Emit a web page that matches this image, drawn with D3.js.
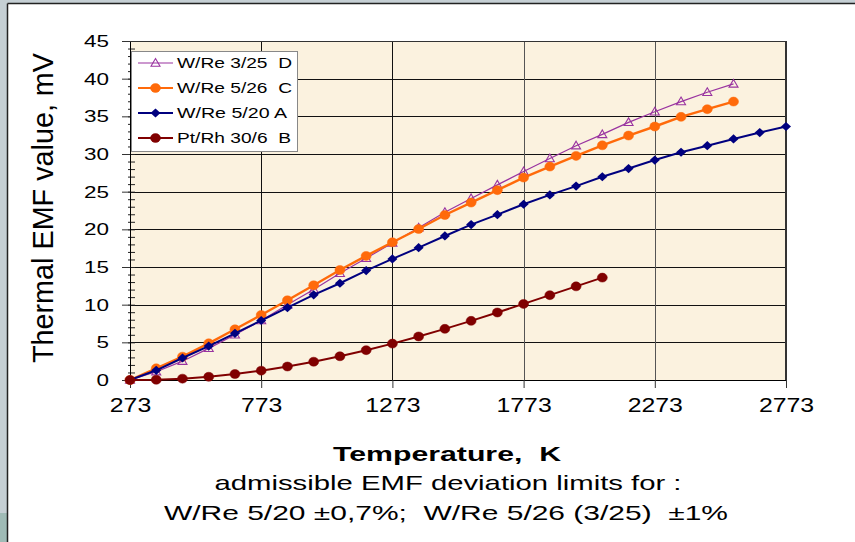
<!DOCTYPE html>
<html><head><meta charset="utf-8">
<script src="https://cdn.jsdelivr.net/npm/d3@7/dist/d3.min.js"></script>
<style>
html,body{margin:0;padding:0;background:#fff;}
svg{display:block;}
text{font-family:"Liberation Sans",Arial,sans-serif;white-space:pre;}
</style></head>
<body>
<svg id="chart" width="855" height="542"></svg>
<script>
// ---- data ----
const temps = [273,373,473,573,673,773,873,973,1073,1173,1273,1373,1473,1573,1673,1773,1873,1973,2073,2173,2273,2373,2473,2573,2673,2773];
const emfD = [0,1.1,2.5,4.2,6.0,7.9,10.0,12.0,14.17,16.16,18.2,20.2,22.27,24.1,25.9,27.67,29.4,31.1,32.6,34.2,35.6,36.96,38.2,39.3];
const emfC = [0,1.55,3.1,4.87,6.73,8.63,10.58,12.57,14.6,16.47,18.28,20.05,21.9,23.55,25.2,26.87,28.33,29.75,31.15,32.45,33.65,34.93,35.95,36.96];
const emfA = [0,1.29,2.92,4.5,6.2,7.9,9.6,11.3,12.84,14.52,16.07,17.57,19.12,20.63,21.95,23.33,24.57,25.74,26.98,28.07,29.2,30.23,31.1,32.0,32.85,33.65];
const emfB = [0,0.03,0.18,0.43,0.79,1.24,1.79,2.43,3.15,3.96,4.83,5.78,6.79,7.85,8.96,10.1,11.26,12.43,13.59];
const seriesNames = ["W/Re 3/25  D","W/Re 5/26  C","W/Re 5/20 A","Pt/Rh 30/6  B"];
const xTicks = [273,773,1273,1773,2273,2773];
const yTicks = [0,5,10,15,20,25,30,35,40,45];
const yMinor = d3.range(0,46,1);
const xTitle = "Temperature,  K";
const yTitle = "Thermal EMF value, mV";
const note1 = "admissible EMF deviation limits for :";
const note2 = "W/Re 5/20 ±0,7%;  W/Re 5/26 (3/25)  ±1%";

// ---- layout ----
const svg = d3.select("#chart");
const L = 130, R = 786, T = 41, B = 380;
const x = d3.scaleLinear().domain([273,2773]).range([L,R]);
const y = d3.scaleLinear().domain([0,45]).range([B,T]);

// outer frame
svg.append("rect").attr("x",0).attr("y",0).attr("width",855).attr("height",542).attr("fill","#fff");
svg.append("rect").attr("x",0).attr("y",0).attr("width",855).attr("height",3).attr("fill","#c5cfd4");
svg.append("rect").attr("x",0).attr("y",0).attr("width",7).attr("height",513).attr("fill","#c5cfd4");
svg.append("rect").attr("x",0).attr("y",513).attr("width",7).attr("height",29).attr("fill","#9fbbb6");
svg.append("line").attr("x1",7.5).attr("x2",855).attr("y1",3.5).attr("y2",3.5).attr("stroke","#222").attr("stroke-width",1.5);
svg.append("line").attr("x1",7.5).attr("x2",7.5).attr("y1",3.5).attr("y2",542).attr("stroke","#222").attr("stroke-width",1.5);

// plot background
svg.append("rect").attr("x",L).attr("y",T).attr("width",R-L).attr("height",B-T).attr("fill","#fbf2df");

// grid
const g = svg.append("g");
g.selectAll(".hg").data(yTicks.filter(v=>v>0)).join("line")
  .attr("x1",L).attr("x2",R).attr("y1",d=>Math.round(y(d))+0.5).attr("y2",d=>Math.round(y(d))+0.5)
  .attr("stroke","#111").attr("stroke-width",1);
g.selectAll(".vg").data(xTicks.slice(1,-1)).join("line")
  .attr("y1",T).attr("y2",B).attr("x1",d=>Math.round(x(d))+0.5).attr("x2",d=>Math.round(x(d))+0.5)
  .attr("stroke",(d,i)=> i<2 ? "#111" : "#555").attr("stroke-width",1);
// right border
svg.append("line").attr("x1",R).attr("x2",R).attr("y1",T).attr("y2",B).attr("stroke","#333").attr("stroke-width",2);

// axes
const xAxis = d3.axisBottom(x).tickValues(xTicks).tickSize(8).tickPadding(10).tickFormat(d3.format("d"));
const xg = svg.append("g").attr("transform",`translate(0,${B})`).call(xAxis);
xg.select(".domain").attr("stroke","#000");
xg.selectAll(".tick line").attr("stroke","#333");
xg.selectAll("text").attr("font-size",20).attr("fill","#000").attr("dy","0.71em")
  .attr("textLength",function(){return this.textContent.length*13.8;}).attr("lengthAdjust","spacingAndGlyphs");

const yMinorAxis = d3.axisLeft(y).tickValues(yMinor).tickSize(-4).tickFormat("");
const ym = svg.append("g").attr("transform",`translate(${L+1},0)`).call(yMinorAxis);
ym.select(".domain").remove();
ym.selectAll(".tick line").attr("stroke","#222").attr("x1",-3);

const yAxis = d3.axisLeft(y).tickValues(yTicks).tickSize(8).tickPadding(13);
const yg = svg.append("g").attr("transform",`translate(${L},0)`).call(yAxis);
yg.select(".domain").attr("stroke","#000");
yg.selectAll(".tick line").attr("stroke","#333");
yg.selectAll("text").attr("font-size",17).attr("fill","#000")
  .attr("textLength",function(){return this.textContent.length*12.5;}).attr("lengthAdjust","spacingAndGlyphs");

// top border
svg.append("line").attr("x1",L).attr("x2",R).attr("y1",T+0.5).attr("y2",T+0.5).attr("stroke","#333").attr("stroke-width",1);

// series
function pts(vals){ return vals.map((v,i)=>[temps[i],v]); }
const series = [
  {name:seriesNames[0], data:pts(emfD), color:"#9933a0", width:1.2, marker:"tri"},
  {name:seriesNames[1], data:pts(emfC), color:"#ff6a0a", width:2.4, marker:"circ"},
  {name:seriesNames[2], data:pts(emfA), color:"#00007f", width:2, marker:"dia"},
  {name:seriesNames[3], data:pts(emfB), color:"#800000", width:2, marker:"circ"}
];
const line = d3.line().x(d=>x(d[0])).y(d=>y(d[1]));

function drawMarker(sel, type, color){
  if(type==="circ"){
    sel.append("ellipse").attr("rx",5).attr("ry",4.5).attr("fill",color).attr("stroke",color).attr("stroke-width",0.5);
  } else if(type==="dia"){
    sel.append("path").attr("d","M0,-4.6L5,0L0,4.6L-5,0Z").attr("fill",color);
  } else {
    sel.append("path").attr("d","M0,-4.5L4.5,3.2L-4.5,3.2Z").attr("fill","none").attr("stroke",color).attr("stroke-width",1.1);
  }
}

series.forEach(s=>{
  const sg = svg.append("g");
  sg.append("path").attr("d",line(s.data)).attr("fill","none").attr("stroke",s.color).attr("stroke-width",s.width);
  sg.selectAll("g.m").data(s.data).join("g").attr("class","m")
    .attr("transform",d=>`translate(${x(d[0])},${y(d[1])})`)
    .each(function(){ drawMarker(d3.select(this), s.marker, s.color); });
});

// legend
const lg = svg.append("g").attr("transform","translate(131,51)");
lg.append("rect").attr("x",0.5).attr("y",0.5).attr("width",166).attr("height",100).attr("fill","#fff").attr("stroke","#888");
const ent = lg.selectAll("g.e").data(series).join("g").attr("class","e")
  .attr("transform",(d,i)=>`translate(0,${12+i*25})`);
ent.append("line").attr("x1",7).attr("x2",42).attr("y1",0).attr("y2",0)
  .attr("stroke",d=>d.color).attr("stroke-width",d=>Math.min(d.width,2));
ent.each(function(d){ const m=d3.select(this).append("g").attr("transform","translate(24.5,0)"); drawMarker(m,d.marker,d.color); });
const legW = [115,115,110,114];
ent.append("text").attr("x",46).attr("y",5).attr("font-size",14).attr("fill","#000")
  .attr("textLength",(d,i)=>legW[i]).attr("lengthAdjust","spacingAndGlyphs").text(d=>d.name);

// titles
svg.append("text").attr("transform","translate(53,208) rotate(-90)").attr("text-anchor","middle")
  .attr("font-size",30).attr("fill","#000").attr("textLength",310).attr("lengthAdjust","spacingAndGlyphs").text(yTitle);
svg.append("text").attr("x",447).attr("y",461).attr("text-anchor","middle").attr("font-weight","bold")
  .attr("font-size",20).attr("fill","#000").attr("textLength",228).attr("lengthAdjust","spacingAndGlyphs").text(xTitle);
svg.append("text").attr("x",448).attr("y",490).attr("text-anchor","middle")
  .attr("font-size",21).attr("fill","#000").attr("textLength",467).attr("lengthAdjust","spacingAndGlyphs").text(note1);
svg.append("text").attr("x",446).attr("y",520).attr("text-anchor","middle")
  .attr("font-size",21).attr("fill","#000").attr("textLength",564).attr("lengthAdjust","spacingAndGlyphs").text(note2);
</script>
</body></html>
